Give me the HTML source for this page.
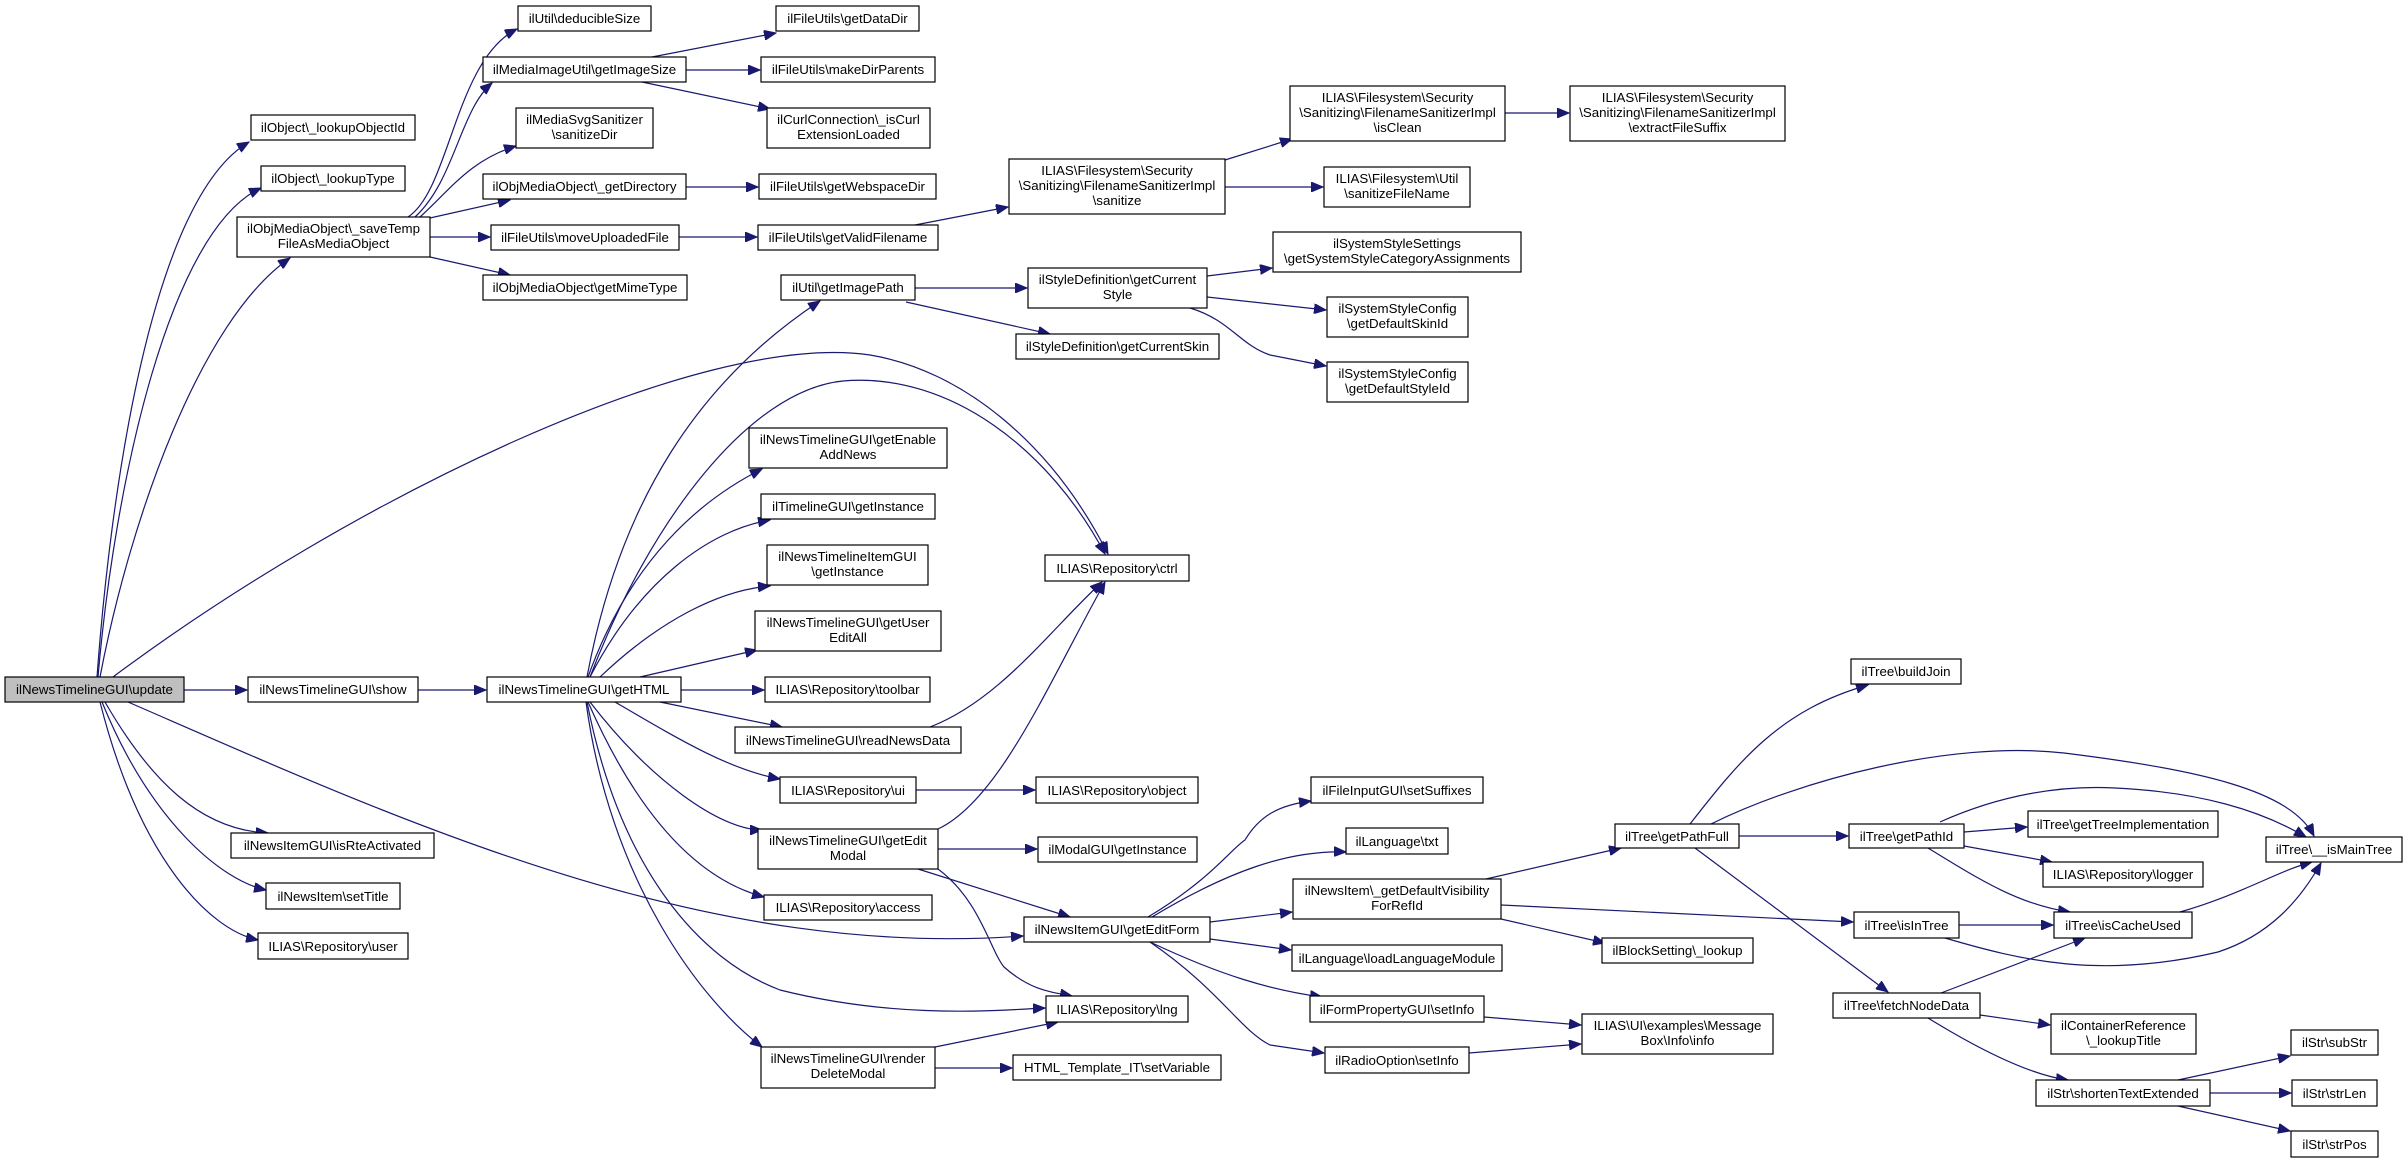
<!DOCTYPE html>
<html><head><meta charset="utf-8"><style>
html,body{margin:0;padding:0;background:#fff;}
svg{display:block;}
text{font-family:"Liberation Sans",Arial,sans-serif;font-size:13.3px;fill:#000;text-anchor:middle;}
rect{fill:#fff;stroke:#000;stroke-width:1.2;}
path{fill:none;stroke:#191970;stroke-width:1.2;}
</style></head><body>
<svg width="2408" height="1163" viewBox="0 0 2408 1163" xmlns="http://www.w3.org/2000/svg">
<defs><marker id="a" markerWidth="13" markerHeight="10" refX="12" refY="5" orient="auto" markerUnits="userSpaceOnUse"><path d="M0,0 L12,5 L0,10 Z" style="fill:#191970;stroke:#191970;stroke-width:1"/></marker></defs>
<g marker-end="url(#a)">
<path d="M97,677 C110,500 150,200 249,142"/>
<path d="M98,677 C115,480 170,230 261,188"/>
<path d="M100,677 C130,520 200,320 290,258"/>
<path d="M113,677 C350,500 700,330 870,355 C960,370 1050,440 1108,554"/>
<path d="M590,677 C650,520 750,390 843,381 C950,372 1050,450 1105,554"/>
<path d="M184,690 L247,690"/>
<path d="M128,702 C400,820 700,960 1023,936"/>
<path d="M105,702 C150,780 200,830 268,833"/>
<path d="M102,702 C150,820 220,880 266,890"/>
<path d="M100,702 C140,860 210,930 258,940"/>
<path d="M418,690 L486,690"/>
<path d="M408,217 C450,190 455,60 517,29"/>
<path d="M415,217 C455,180 460,110 492,83"/>
<path d="M420,217 C450,190 470,160 516,146"/>
<path d="M430,218 L510,200"/>
<path d="M430,237 L490,237"/>
<path d="M430,257 L510,275"/>
<path d="M652,57 L776,33"/>
<path d="M686,70 L760,70"/>
<path d="M642,82 L770,109"/>
<path d="M686,187 L758,187"/>
<path d="M679,237 L757,237"/>
<path d="M915,225 L1008,207"/>
<path d="M1225,160 L1292,139"/>
<path d="M1225,187 L1323,187"/>
<path d="M1505,113 L1569,113"/>
<path d="M915,288 L1027,288"/>
<path d="M906,302 L1050,334"/>
<path d="M1207,276 L1272,268"/>
<path d="M1207,297 L1326,310"/>
<path d="M1190,308 C1230,320 1240,345 1270,355 L1326,366"/>
<path d="M587,677 C620,500 700,380 820,301"/>
<path d="M588,677 C630,560 700,500 762,469"/>
<path d="M590,677 C640,580 710,530 770,520"/>
<path d="M600,677 C660,620 720,590 770,586"/>
<path d="M640,677 L757,650"/>
<path d="M681,690 L764,690"/>
<path d="M660,702 L782,727"/>
<path d="M615,702 C680,740 730,770 780,779"/>
<path d="M590,702 C650,780 720,830 762,830"/>
<path d="M588,702 C640,820 700,880 764,897"/>
<path d="M587,702 C620,870 700,960 780,990 C900,1020 1000,1010 1045,1008"/>
<path d="M586,702 C610,880 700,1000 762,1047"/>
<path d="M930,727 C1000,700 1050,630 1102,582"/>
<path d="M916,790 L1035,790"/>
<path d="M938,829 C1000,800 1050,680 1105,582"/>
<path d="M938,849 L1037,849"/>
<path d="M918,869 L1070,917"/>
<path d="M938,869 C980,900 990,950 1004,967 C1030,990 1050,992 1072,996"/>
<path d="M935,1047 L1058,1022"/>
<path d="M935,1068 L1012,1068"/>
<path d="M1148,917 C1210,880 1230,850 1245,840 C1260,815 1280,805 1311,801"/>
<path d="M1152,917 C1230,870 1290,850 1346,852"/>
<path d="M1210,922 L1292,912"/>
<path d="M1210,939 L1291,950"/>
<path d="M1150,942 C1220,975 1270,990 1322,997"/>
<path d="M1150,942 C1220,990 1240,1030 1270,1045 L1324,1053"/>
<path d="M1484,1017 L1581,1025"/>
<path d="M1469,1053 L1581,1044"/>
<path d="M1486,879 L1621,848"/>
<path d="M1501,905 L1853,922"/>
<path d="M1501,919 L1605,943"/>
<path d="M1690,824 C1740,760 1780,710 1868,685"/>
<path d="M1711,824 C1800,780 1950,740 2064,753 C2200,770 2290,790 2314,836"/>
<path d="M1739,836 L1848,836"/>
<path d="M1695,848 L1888,992"/>
<path d="M1964,832 L2027,827"/>
<path d="M1964,846 L2052,862"/>
<path d="M1928,848 C1980,880 2020,905 2070,912"/>
<path d="M1940,822 C2000,795 2060,785 2115,788 C2200,792 2260,810 2306,837"/>
<path d="M1959,925 L2053,925"/>
<path d="M1945,938 C2020,960 2100,980 2218,952 C2270,935 2300,900 2321,863"/>
<path d="M2180,912 C2240,895 2280,870 2312,862"/>
<path d="M1941,993 L2085,938"/>
<path d="M1980,1015 L2050,1025"/>
<path d="M1928,1018 C1980,1050 2030,1075 2068,1080"/>
<path d="M2178,1080 L2290,1056"/>
<path d="M2210,1093 L2291,1093"/>
<path d="M2178,1106 L2290,1131"/>
</g>
<g>
<rect x="5" y="677" width="179" height="25" style="fill:#bfbfbf"/><text x="94.5" y="694">ilNewsTimelineGUI\update</text>
<rect x="248" y="677" width="170" height="25"/><text x="333" y="694">ilNewsTimelineGUI\show</text>
<rect x="487" y="677" width="194" height="25"/><text x="584" y="694">ilNewsTimelineGUI\getHTML</text>
<rect x="251" y="115" width="164" height="25"/><text x="333" y="132">ilObject\_lookupObjectId</text>
<rect x="261" y="166" width="144" height="25"/><text x="333" y="183">ilObject\_lookupType</text>
<rect x="237" y="217" width="193" height="40"/><text x="333.5" y="233">ilObjMediaObject\_saveTemp</text><text x="333.5" y="248">FileAsMediaObject</text>
<rect x="518" y="6" width="133" height="25"/><text x="584.5" y="23">ilUtil\deducibleSize</text>
<rect x="483" y="57" width="203" height="25"/><text x="584.5" y="74">ilMediaImageUtil\getImageSize</text>
<rect x="516" y="108" width="137" height="40"/><text x="584.5" y="124">ilMediaSvgSanitizer</text><text x="584.5" y="139">\sanitizeDir</text>
<rect x="483" y="174" width="203" height="25"/><text x="584.5" y="191">ilObjMediaObject\_getDirectory</text>
<rect x="491" y="225" width="188" height="25"/><text x="585" y="242">ilFileUtils\moveUploadedFile</text>
<rect x="483" y="275" width="204" height="25"/><text x="585" y="292">ilObjMediaObject\getMimeType</text>
<rect x="231" y="833" width="203" height="25"/><text x="332.5" y="850">ilNewsItemGUI\isRteActivated</text>
<rect x="266" y="883" width="134" height="26"/><text x="333" y="901">ilNewsItem\setTitle</text>
<rect x="258" y="933" width="150" height="26"/><text x="333" y="951">ILIAS\Repository\user</text>
<rect x="776" y="6" width="143" height="25"/><text x="847.5" y="23">ilFileUtils\getDataDir</text>
<rect x="761" y="57" width="174" height="25"/><text x="848" y="74">ilFileUtils\makeDirParents</text>
<rect x="767" y="108" width="163" height="40"/><text x="848.5" y="124">ilCurlConnection\_isCurl</text><text x="848.5" y="139">ExtensionLoaded</text>
<rect x="759" y="174" width="177" height="25"/><text x="847.5" y="191">ilFileUtils\getWebspaceDir</text>
<rect x="758" y="225" width="180" height="25"/><text x="848" y="242">ilFileUtils\getValidFilename</text>
<rect x="1009" y="159" width="216" height="55"/><text x="1117" y="175">ILIAS\Filesystem\Security</text><text x="1117" y="190">\Sanitizing\FilenameSanitizerImpl</text><text x="1117" y="205">\sanitize</text>
<rect x="1290" y="86" width="215" height="55"/><text x="1397.5" y="102">ILIAS\Filesystem\Security</text><text x="1397.5" y="117">\Sanitizing\FilenameSanitizerImpl</text><text x="1397.5" y="132">\isClean</text>
<rect x="1570" y="86" width="215" height="55"/><text x="1677.5" y="102">ILIAS\Filesystem\Security</text><text x="1677.5" y="117">\Sanitizing\FilenameSanitizerImpl</text><text x="1677.5" y="132">\extractFileSuffix</text>
<rect x="1324" y="167" width="146" height="40"/><text x="1397" y="183">ILIAS\Filesystem\Util</text><text x="1397" y="198">\sanitizeFileName</text>
<rect x="1273" y="232" width="248" height="40"/><text x="1397" y="248">ilSystemStyleSettings</text><text x="1397" y="263">\getSystemStyleCategoryAssignments</text>
<rect x="781" y="275" width="134" height="25"/><text x="848" y="292">ilUtil\getImagePath</text>
<rect x="1028" y="268" width="179" height="40"/><text x="1117.5" y="284">ilStyleDefinition\getCurrent</text><text x="1117.5" y="299">Style</text>
<rect x="1016" y="334" width="203" height="25"/><text x="1117.5" y="351">ilStyleDefinition\getCurrentSkin</text>
<rect x="1327" y="297" width="141" height="40"/><text x="1397.5" y="313">ilSystemStyleConfig</text><text x="1397.5" y="328">\getDefaultSkinId</text>
<rect x="1327" y="362" width="141" height="40"/><text x="1397.5" y="378">ilSystemStyleConfig</text><text x="1397.5" y="393">\getDefaultStyleId</text>
<rect x="749" y="428" width="198" height="40"/><text x="848" y="444">ilNewsTimelineGUI\getEnable</text><text x="848" y="459">AddNews</text>
<rect x="761" y="494" width="174" height="25"/><text x="848" y="511">ilTimelineGUI\getInstance</text>
<rect x="767" y="545" width="161" height="40"/><text x="847.5" y="561">ilNewsTimelineItemGUI</text><text x="847.5" y="576">\getInstance</text>
<rect x="1045" y="555" width="144" height="26"/><text x="1117" y="573">ILIAS\Repository\ctrl</text>
<rect x="755" y="611" width="186" height="40"/><text x="848" y="627">ilNewsTimelineGUI\getUser</text><text x="848" y="642">EditAll</text>
<rect x="765" y="677" width="165" height="25"/><text x="847.5" y="694">ILIAS\Repository\toolbar</text>
<rect x="735" y="727" width="226" height="26"/><text x="848" y="745">ilNewsTimelineGUI\readNewsData</text>
<rect x="780" y="777" width="136" height="26"/><text x="848" y="795">ILIAS\Repository\ui</text>
<rect x="1036" y="777" width="162" height="26"/><text x="1117" y="795">ILIAS\Repository\object</text>
<rect x="758" y="829" width="180" height="40"/><text x="848" y="845">ilNewsTimelineGUI\getEdit</text><text x="848" y="860">Modal</text>
<rect x="1038" y="837" width="159" height="25"/><text x="1117.5" y="854">ilModalGUI\getInstance</text>
<rect x="764" y="895" width="168" height="25"/><text x="848" y="912">ILIAS\Repository\access</text>
<rect x="1024" y="917" width="186" height="25"/><text x="1117" y="934">ilNewsItemGUI\getEditForm</text>
<rect x="1046" y="996" width="142" height="26"/><text x="1117" y="1014">ILIAS\Repository\lng</text>
<rect x="761" y="1047" width="174" height="41"/><text x="848" y="1063">ilNewsTimelineGUI\render</text><text x="848" y="1078">DeleteModal</text>
<rect x="1013" y="1055" width="208" height="25"/><text x="1117" y="1072">HTML_Template_IT\setVariable</text>
<rect x="1311" y="777" width="172" height="26"/><text x="1397" y="795">ilFileInputGUI\setSuffixes</text>
<rect x="1346" y="828" width="102" height="26"/><text x="1397" y="846">ilLanguage\txt</text>
<rect x="1293" y="879" width="208" height="40"/><text x="1397" y="895">ilNewsItem\_getDefaultVisibility</text><text x="1397" y="910">ForRefId</text>
<rect x="1292" y="945" width="210" height="26"/><text x="1397" y="963">ilLanguage\loadLanguageModule</text>
<rect x="1310" y="996" width="174" height="26"/><text x="1397" y="1014">ilFormPropertyGUI\setInfo</text>
<rect x="1325" y="1047" width="144" height="26"/><text x="1397" y="1065">ilRadioOption\setInfo</text>
<rect x="1582" y="1014" width="191" height="40"/><text x="1677.5" y="1030">ILIAS\UI\examples\Message</text><text x="1677.5" y="1045">Box\Info\info</text>
<rect x="1851" y="659" width="110" height="25"/><text x="1906" y="676">ilTree\buildJoin</text>
<rect x="1615" y="824" width="124" height="24"/><text x="1677" y="841">ilTree\getPathFull</text>
<rect x="1849" y="824" width="115" height="24"/><text x="1906.5" y="841">ilTree\getPathId</text>
<rect x="2028" y="811" width="190" height="26"/><text x="2123" y="829">ilTree\getTreeImplementation</text>
<rect x="2043" y="862" width="160" height="25"/><text x="2123" y="879">ILIAS\Repository\logger</text>
<rect x="2266" y="837" width="136" height="25"/><text x="2334" y="854">ilTree\__isMainTree</text>
<rect x="1854" y="912" width="105" height="26"/><text x="1906.5" y="930">ilTree\isInTree</text>
<rect x="2054" y="912" width="138" height="26"/><text x="2123" y="930">ilTree\isCacheUsed</text>
<rect x="1602" y="938" width="151" height="25"/><text x="1677.5" y="955">ilBlockSetting\_lookup</text>
<rect x="1833" y="993" width="147" height="25"/><text x="1906.5" y="1010">ilTree\fetchNodeData</text>
<rect x="2051" y="1014" width="145" height="40"/><text x="2123.5" y="1030">ilContainerReference</text><text x="2123.5" y="1045">\_lookupTitle</text>
<rect x="2036" y="1080" width="174" height="26"/><text x="2123" y="1098">ilStr\shortenTextExtended</text>
<rect x="2291" y="1030" width="87" height="25"/><text x="2334.5" y="1047">ilStr\subStr</text>
<rect x="2292" y="1080" width="85" height="26"/><text x="2334.5" y="1098">ilStr\strLen</text>
<rect x="2291" y="1131" width="87" height="26"/><text x="2334.5" y="1149">ilStr\strPos</text>
</g>
</svg>
</body></html>
